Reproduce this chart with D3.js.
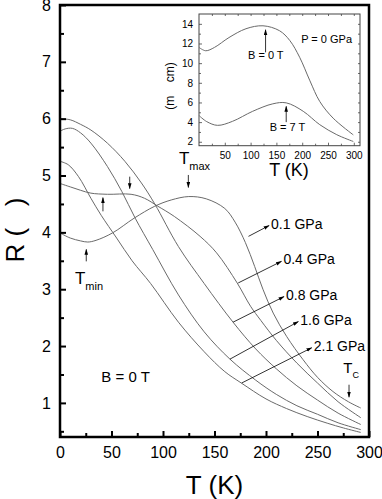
<!DOCTYPE html>
<html><head><meta charset="utf-8">
<script src="https://cdn.jsdelivr.net/npm/d3@7"></script>
<style>
body{margin:0;background:#fff}
svg{display:block}
text{font-family:"Liberation Sans",Arial,Helvetica,sans-serif;fill:#000}
</style>
</head><body>
<svg id="c" width="382" height="499"></svg>
<script>
// ---------- data (main panel, B = 0 T) ----------
const pressures = ["0.1 GPa","0.4 GPa","0.8 GPa","1.6 GPa","2.1 GPa"];
const T_p01 = [0,10,20,27,35,51,72,92,108,125,142,160,170,180,189,197,207,220,236,250,265,280,292];
const R_p01 = [3.99,3.90,3.85,3.83,3.86,3.99,4.25,4.46,4.57,4.63,4.59,4.42,4.18,3.82,3.40,3.00,2.58,2.17,1.76,1.45,1.20,1.02,0.91];
const T_p04 = [0,10,20,30,46,69,82,95,111,136,152,172,185,195,210,230,250,270,292];
const R_p04 = [4.86,4.80,4.74,4.69,4.67,4.67,4.60,4.46,4.28,3.93,3.64,3.11,2.70,2.45,2.10,1.70,1.35,1.02,0.74];
const T_p08 = [0,10,20,30,46,63,79,92,115,140,168,190,210,230,250,270,292];
const R_p08 = [6.00,5.98,5.90,5.80,5.57,5.25,4.87,4.50,3.75,3.10,2.42,1.95,1.60,1.30,1.05,0.82,0.62];
const T_p16 = [0,5,12,20,30,46,60,73,90,115,140,165,190,210,230,250,270,292];
const R_p16 = [5.78,5.82,5.83,5.75,5.57,5.16,4.72,4.25,3.70,2.90,2.25,1.77,1.40,1.15,0.95,0.80,0.65,0.53];
const T_p21 = [0,8,18,30,40,55,70,88,115,140,160,176,200,220,240,260,275,292];
const R_p21 = [5.25,5.19,4.98,4.60,4.30,3.90,3.50,3.10,2.42,1.90,1.55,1.35,1.07,0.90,0.76,0.64,0.56,0.48];
const mainSeries = [
  {p:pressures[0], T:T_p01, R:R_p01},
  {p:pressures[1], T:T_p04, R:R_p04},
  {p:pressures[2], T:T_p08, R:R_p08},
  {p:pressures[3], T:T_p16, R:R_p16},
  {p:pressures[4], T:T_p21, R:R_p21}
];
const xTicks = [0,50,100,150,200,250,300];
const yTicks = [1,2,3,4,5,6,7,8];

// ---------- data (inset, P = 0 GPa) ----------
const Ti_B0 = [0,13,30,58,91,124,156,176,195,215,234,260,299];
const Ri_B0 = [11.6,11.26,11.6,12.6,13.5,13.8,13.3,12.3,10.6,8.2,6.1,4.4,2.7];
const Ti_B7 = [0,15,36,65,104,143,169,202,234,267,299];
const Ri_B7 = [4.67,4.05,3.67,4.08,5.1,5.86,5.96,5.1,3.74,2.72,2.03];
const insetXTicks = [50,100,150,200,250,300];
const insetYTicks = [2,4,6,8,10,12,14];

// label annotations (data coordinates): arrow tail near curve -> head near label
const pressureArrows = [
  {label:pressures[0], tail:[183,3.93], head:[203,4.12]},
  {label:pressures[1], tail:[173,3.11], head:[215,3.49]},
  {label:pressures[2], tail:[168,2.42], head:[217.5,2.87]},
  {label:pressures[3], tail:[165,1.77], head:[231.4,2.43]},
  {label:pressures[4], tail:[176.4,1.35], head:[244.4,1.97]}
];

const svg = d3.select("#c");
const defs = svg.append("defs");
defs.append("marker").attr("id","ah").attr("viewBox","0 0 10 6")
  .attr("refX",9).attr("refY",3).attr("markerWidth",6).attr("markerHeight",4)
  .attr("markerUnits","userSpaceOnUse").attr("orient","auto")
  .append("path").attr("d","M0,0L10,3L0,6Z").attr("fill","#000");

// ---------- main panel ----------
const x = d3.scaleLinear().domain([0,300]).range([60,369]);
const y = d3.scaleLinear().domain([0.4,8]).range([437,5]);

const line = d3.line().x(d=>x(d[0])).y(d=>y(d[1])).curve(d3.curveCatmullRom.alpha(0.5));
svg.append("g").selectAll("path").data(mainSeries).join("path")
  .attr("d", s => line(s.T.map((t,i)=>[t,s.R[i]])))
  .attr("fill","none").attr("stroke","#6a6a6a").attr("stroke-width",1);

// axes
const gx = svg.append("g").attr("transform","translate(0,437)")
  .call(d3.axisBottom(x).tickValues(xTicks).tickFormat(d3.format("d")).tickSizeInner(-6).tickSizeOuter(0).tickPadding(10));
const gxm = svg.append("g").attr("transform","translate(0,437)")
  .call(d3.axisBottom(x).tickValues(d3.range(25,300,50)).tickFormat("").tickSizeInner(-4).tickSizeOuter(0));
const gy = svg.append("g").attr("transform","translate(60,0)")
  .call(d3.axisLeft(y).tickValues(yTicks).tickFormat(d3.format("d")).tickSizeInner(-6).tickSizeOuter(0).tickPadding(9));
const gym = svg.append("g").attr("transform","translate(60,0)")
  .call(d3.axisLeft(y).tickValues([0.5,1.5,2.5,3.5,4.5,5.5,6.5,7.5]).tickFormat("").tickSizeInner(-4).tickSizeOuter(0));
[gx,gxm,gy,gym].forEach(g=>{
  g.select(".domain").remove();
  g.selectAll("line").attr("stroke","#000").attr("stroke-width",2);
  g.selectAll("text").attr("font-size",16).style("font-family",'"Liberation Sans",Arial,sans-serif');
});
svg.append("rect").attr("x",x(0)).attr("y",y(8)).attr("width",x(300)-x(0)).attr("height",y(0.4)-y(8))
  .attr("fill","none").attr("stroke","#000").attr("stroke-width",2.5);

// axis titles
svg.append("text").attr("x",(x(0)+x(300))/2).attr("y",494).attr("text-anchor","middle")
  .attr("font-size",26).text("T (K)");
svg.append("text").attr("transform",`translate(24,${230}) rotate(-90)`).attr("text-anchor","middle")
  .attr("font-size",26).style("white-space","pre").text("R (   )");

// pressure label arrows
const pa = svg.append("g");
pressureArrows.forEach(a=>{
  pa.append("line").attr("x1",x(a.tail[0])).attr("y1",y(a.tail[1]))
    .attr("x2",x(a.head[0])).attr("y2",y(a.head[1]))
    .attr("stroke","#000").attr("stroke-width",0.8).attr("marker-end","url(#ah)");
  pa.append("text").attr("x",x(a.head[0])+2).attr("y",y(a.head[1])+3)
    .attr("font-size",14).text(a.label);
});

// vertical arrows (data coords)
function vArrow(t, r1, r2){
  svg.append("line").attr("x1",x(t)).attr("x2",x(t)).attr("y1",y(r1)).attr("y2",y(r2))
    .attr("stroke","#000").attr("stroke-width",0.8).attr("marker-end","url(#ah)");
}
function subLabel(t, r, main, sub, fs, sfs){
  const tx = svg.append("text").attr("x",x(t)).attr("y",y(r)).attr("font-size",fs);
  tx.append("tspan").text(main);
  tx.append("tspan").attr("font-size",sfs).attr("dy",fs*0.35).text(sub);
}
subLabel(115.5,5.2,"T","max",17,11);
vArrow(124.6,5.01,4.79);
subLabel(14.5,3.09,"T","min",17,11);
vArrow(25.5,3.49,3.70);
subLabel(275,1.53,"T","C",15,9);
vArrow(280.6,1.32,1.10);
vArrow(67.7,4.98,4.77);
vArrow(41.7,4.37,4.61);

svg.append("text").attr("x",x(40.1)).attr("y",y(1.37)).attr("font-size",15).text("B = 0 T");

// ---------- inset ----------
const xi = d3.scaleLinear().domain([0,312]).range([199,360]);
const yi = d3.scaleLinear().domain([1.6,15]).range([145.7,14]);
const ig = svg.append("g");
ig.append("rect").attr("x",199).attr("y",14).attr("width",161).attr("height",131.7)
  .attr("fill","#fff").attr("stroke","#444").attr("stroke-width",1);
const lineI = d3.line().x(d=>xi(d[0])).y(d=>yi(d[1])).curve(d3.curveCatmullRom.alpha(0.5));
ig.append("path").attr("d",lineI(Ti_B0.map((t,i)=>[t,Ri_B0[i]])))
  .attr("fill","none").attr("stroke","#6a6a6a").attr("stroke-width",1);
ig.append("path").attr("d",lineI(Ti_B7.map((t,i)=>[t,Ri_B7[i]])))
  .attr("fill","none").attr("stroke","#6a6a6a").attr("stroke-width",1);

const ia = [
  ig.append("g").attr("transform","translate(0,145.7)").call(d3.axisBottom(xi).tickValues(insetXTicks).tickFormat(d3.format("d")).tickSizeInner(-3).tickSizeOuter(0).tickPadding(6)),
  ig.append("g").attr("transform","translate(0,145.7)").call(d3.axisBottom(xi).tickValues(d3.range(25,312,50)).tickFormat("").tickSizeInner(-2).tickSizeOuter(0)),
  ig.append("g").attr("transform","translate(0,14)").call(d3.axisTop(xi).tickValues(d3.range(25,312,25)).tickFormat("").tickSizeInner(-2).tickSizeOuter(0)),
  ig.append("g").attr("transform","translate(199,0)").call(d3.axisLeft(yi).tickValues(insetYTicks).tickFormat(d3.format("d")).tickSizeInner(-3).tickSizeOuter(0).tickPadding(6)),
  ig.append("g").attr("transform","translate(199,0)").call(d3.axisLeft(yi).tickValues([3,5,7,9,11,13]).tickFormat("").tickSizeInner(-2).tickSizeOuter(0)),
  ig.append("g").attr("transform","translate(360,0)").call(d3.axisRight(yi).tickValues(d3.range(2,15,1)).tickFormat("").tickSizeInner(-2).tickSizeOuter(0))
];
ia.forEach(g=>{
  g.select(".domain").remove();
  g.selectAll("line").attr("stroke","#444").attr("stroke-width",0.8);
  g.selectAll("text").attr("font-size",10).style("font-family",'"Liberation Sans",Arial,sans-serif');
});
ig.append("text").attr("x",289).attr("y",176).attr("text-anchor","middle").attr("font-size",18).text("T (K)");
ig.append("text").attr("transform","translate(174,86) rotate(-90)").attr("text-anchor","middle")
  .attr("font-size",12).style("white-space","pre").text("(m    cm)");
ig.append("text").attr("x",xi(198)).attr("y",yi(12.0)).attr("font-size",11).text("P = 0 GPa");
ig.append("text").attr("x",xi(95)).attr("y",yi(10.4)).attr("font-size",11).text("B = 0 T");
ig.append("text").attr("x",xi(137)).attr("y",yi(3.1)).attr("font-size",11).text("B = 7 T");
function iArrow(t,r1,r2){
  ig.append("line").attr("x1",xi(t)).attr("x2",xi(t)).attr("y1",yi(r1)).attr("y2",yi(r2))
    .attr("stroke","#000").attr("stroke-width",0.8).attr("marker-end","url(#ah)");
}
iArrow(129,11.1,13.4);
iArrow(169,4.0,5.6);
</script>
</body></html>
